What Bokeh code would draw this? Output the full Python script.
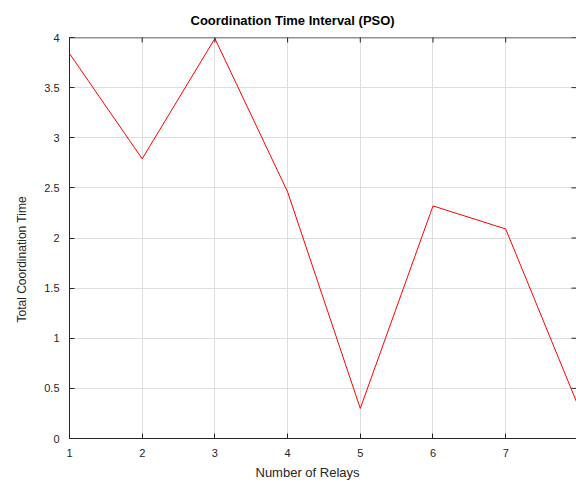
import math
from bokeh.plotting import figure
from bokeh.models import Span, Title, FixedTicker, Range1d
from bokeh.embed import file_html
from bokeh.resources import INLINE

relays = [1, 2, 3, 4, 5, 6, 7, 8]
coord_time = [3.84, 2.79, 3.99, 2.46, 0.30, 2.32, 2.09, 0.32]
x_ticks = [1, 2, 3, 4, 5, 6, 7, 8]
y_ticks = [0, 0.5, 1, 1.5, 2, 2.5, 3, 3.5, 4]
y_tick_labels = {0: "0", 0.5: "0.5", 1: "1", 1.5: "1.5", 2: "2", 2.5: "2.5", 3: "3", 3.5: "3.5", 4: "4"}
x_min, x_max = 1, 7.974
y_min, y_max = 0, 4

FONT = "Liberation Sans"
AX = "#262626"

p = figure(width=576, height=482, output_backend="svg", toolbar_location=None,
           x_range=Range1d(x_min, x_max), y_range=Range1d(y_min, y_max),
           min_border_left=69, min_border_right=0, min_border_top=37, min_border_bottom=44)
p.outline_line_color = None
p.background_fill_color = "white"

for g in (p.xgrid[0], p.ygrid[0]):
    g.grid_line_color = "#dedede"
    g.grid_line_width = 1
p.xgrid[0].ticker = FixedTicker(ticks=x_ticks)
p.ygrid[0].ticker = FixedTicker(ticks=y_ticks)

p.line(relays, coord_time, line_color="#ff0000", line_width=1)

# top frame edge
p.add_layout(Span(location=y_max, dimension="width", line_color=AX, line_width=1.5))

# mirrored inside ticks on top and right edges
p.scatter(x=x_ticks, y=[y_max] * len(x_ticks), marker="dash", angle=math.pi / 2,
          size=10, line_color=AX, line_width=1)
p.scatter(x=[x_max] * len(y_ticks), y=y_ticks, marker="dash",
          size=10, line_color=AX, line_width=1)

for ax in (p.xaxis[0], p.yaxis[0]):
    ax.axis_line_color = AX
    ax.major_tick_line_color = AX
    ax.major_tick_in = 5
    ax.major_tick_out = 0
    ax.minor_tick_line_color = None
    ax.major_label_text_font = FONT
    ax.major_label_text_font_size = "11px"
    ax.major_label_text_color = AX

p.xaxis[0].ticker = FixedTicker(ticks=x_ticks)
p.yaxis[0].ticker = FixedTicker(ticks=y_ticks)
p.yaxis[0].major_label_overrides = y_tick_labels
p.xaxis[0].major_label_standoff = 10
p.yaxis[0].major_label_standoff = 10

t = Title(text="Coordination Time Interval (PSO)", align="left", offset=121, standoff=19,
          text_font=FONT, text_font_size="13px", text_font_style="bold", text_color="black")
p.add_layout(t, "above")

xlab = Title(text="Number of Relays", align="left", offset=186, standoff=6,
             text_font=FONT, text_font_size="13px", text_font_style="normal", text_color=AX)
p.add_layout(xlab, "below")

ylab = Title(text="Total Coordination Time", align="left", offset=116, standoff=25,
             text_font=FONT, text_font_size="12px", text_font_style="normal", text_color=AX)
p.add_layout(ylab, "left")

open("out.html", "w").write(file_html(p, INLINE))
